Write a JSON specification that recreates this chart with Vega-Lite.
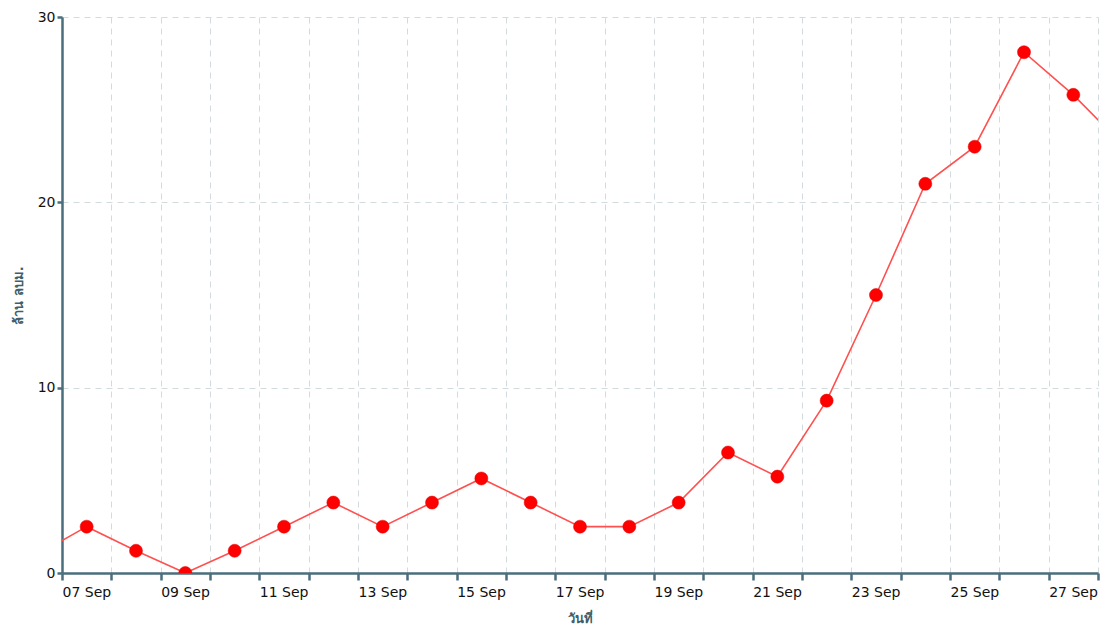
{
  "$schema": "https://vega.github.io/schema/vega-lite/v6.json",
  "autosize": "none",
  "width": 1036,
  "height": 556,
  "padding": {"left": 62, "top": 17, "right": 13, "bottom": 54},
  "background": "white",
  "config": {
    "view": {"stroke": null},
    "font": "DejaVu Sans",
    "axis": {
      "domainColor": "#4a6e7b",
      "domainWidth": 2.5,
      "tickColor": "#4a6e7b",
      "tickWidth": 2.5,
      "labelColor": "#111111",
      "labelFont": "DejaVu Sans",
      "labelFontSize": 14,
      "titleColor": "#3f5f6c",
      "titleFont": "DejaVu Sans",
      "titleFontSize": 13,
      "titleFontWeight": "bold",
      "gridColor": "#d3dbdf",
      "gridDash": [6, 5],
      "gridWidth": 1
    }
  },
  "data": {
    "values": [
      {"date": "2023-09-06T12:00:00", "value": 1.0},
      {"date": "2023-09-07T12:00:00", "value": 2.5},
      {"date": "2023-09-08T12:00:00", "value": 1.2},
      {"date": "2023-09-09T12:00:00", "value": 0},
      {"date": "2023-09-10T12:00:00", "value": 1.2},
      {"date": "2023-09-11T12:00:00", "value": 2.5},
      {"date": "2023-09-12T12:00:00", "value": 3.8},
      {"date": "2023-09-13T12:00:00", "value": 2.5},
      {"date": "2023-09-14T12:00:00", "value": 3.8},
      {"date": "2023-09-15T12:00:00", "value": 5.1},
      {"date": "2023-09-16T12:00:00", "value": 3.8},
      {"date": "2023-09-17T12:00:00", "value": 2.5},
      {"date": "2023-09-18T12:00:00", "value": 2.5},
      {"date": "2023-09-19T12:00:00", "value": 3.8},
      {"date": "2023-09-20T12:00:00", "value": 6.5},
      {"date": "2023-09-21T12:00:00", "value": 5.2},
      {"date": "2023-09-22T12:00:00", "value": 9.3},
      {"date": "2023-09-23T12:00:00", "value": 15.0},
      {"date": "2023-09-24T12:00:00", "value": 21.0},
      {"date": "2023-09-25T12:00:00", "value": 23.0},
      {"date": "2023-09-26T12:00:00", "value": 28.1},
      {"date": "2023-09-27T12:00:00", "value": 25.8},
      {"date": "2023-09-28T12:00:00", "value": 23.1}
    ]
  },
  "encoding": {
    "x": {
      "field": "date",
      "type": "temporal",
      "scale": {
        "domain": [
          {"year": 2023, "month": 9, "date": 7},
          {"year": 2023, "month": 9, "date": 28}
        ],
        "nice": false
      },
      "axis": {
        "title": "วันที่",
        "tickCount": {"interval": "day", "step": 1},
        "labelExpr": "date(datum.value) % 2 == 1 ? timeFormat(datum.value, '%d %b') : ''",
        "labelAlign": "left",
        "labelOverlap": false,
        "labelFlush": false,
        "labelPadding": 5,
        "tickSize": 7,
        "grid": true,
        "titlePadding": 13
      }
    },
    "y": {
      "field": "value",
      "type": "quantitative",
      "scale": {"domain": [0, 30], "nice": false},
      "axis": {
        "title": "ล้าน ลบม.",
        "values": [0, 10, 20, 30],
        "tickSize": 5,
        "labelPadding": 2,
        "titlePadding": 12,
        "grid": true
      }
    }
  },
  "layer": [
    {
      "mark": {"type": "line", "color": "#ff5050", "strokeWidth": 1.6, "clip": true}
    },
    {
      "mark": {"type": "point", "filled": true, "shape": "circle", "size": 170, "color": "#ff0000", "opacity": 1, "stroke": "#e00000", "strokeWidth": 0.5, "clip": true}
    }
  ]
}
